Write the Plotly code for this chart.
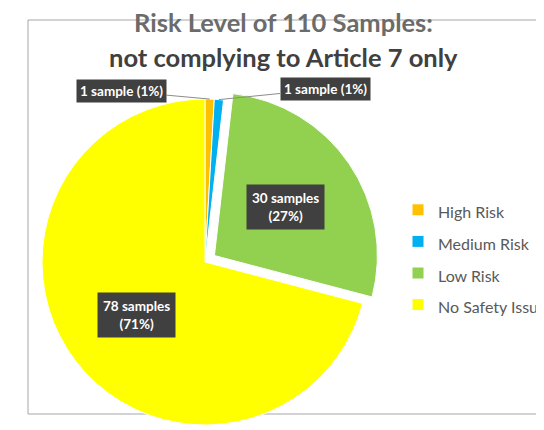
import math
import plotly.graph_objects as go

# ---- data ----
categories = ["High Risk", "Medium Risk", "Low Risk", "No Safety Issue"]
samples = [1, 1, 30, 78]
percent_labels = ["1%", "1%", "27%", "71%"]
colors = ["#FFC000", "#00B0F0", "#92D050", "#FFFF00"]
pulls = [0, 0, 0.07, 0]
title_line1 = "Risk Level of 110 Samples:"
title_line2 = "not complying to Article 7 only"

W, H = 544, 430
OFF = 8                    # page body margin (screen px = figure px + 8)
cx, cy = 205 - OFF, 262 - OFF   # pie centre in figure px
R_TARGET = 163
half = R_TARGET * (1 + max(pulls))
r = half / (1 + max(pulls))

dom_x = [(cx - half) / W, (cx + half) / W]
dom_y = [max(0.0, 1 - (cy + half) / H), 1 - (cy - half) / H]


def fx(px):
    return (px - OFF) / W


def fy(py):
    return 1 - (py - OFF) / H


fig = go.Figure()
fig.add_trace(go.Pie(
    labels=['<span style="font-size:16px">%s</span>' % c for c in categories],
    values=samples,
    sort=False,
    direction="clockwise",
    rotation=0,
    pull=pulls,
    marker=dict(colors=colors, line=dict(color="white", width=1)),
    textinfo="none",
    hoverinfo="skip",
    domain=dict(x=dom_x, y=dom_y),
))

# screen positions of the outside label boxes
label_pos = {0: (121, 91), 1: (325, 89)}

total = sum(samples)
annotations = []
cum = 0
for i, v in enumerate(samples):
    mid = (cum + v / 2) / total * 2 * math.pi
    cum += v
    s, c = math.sin(mid), math.cos(mid)
    ox, oy = cx + pulls[i] * r * s, cy - pulls[i] * r * c
    word = "sample" if v == 1 else "samples"
    if v / total < 0.05:
        px, py = ox + r * s, oy - r * c
        lx, ly = label_pos[i][0] - OFF, label_pos[i][1] - OFF
        text = "<b>%d %s (%s)</b>" % (v, word, percent_labels[i])
        annotations.append(dict(
            x=px / W, y=1 - py / H, xref="paper", yref="paper",
            text=text, showarrow=True, arrowhead=0, arrowwidth=1,
            arrowcolor="#8c8c8c", standoff=0,
            ax=lx - px, ay=ly - py,
            bgcolor="#404040", borderpad=3,
            font=dict(family="Lato", size=13.5, color="white"),
        ))
    else:
        rho = 0.53 * r
        px, py = ox + rho * s, oy - rho * c
        text = "<b>%d %s<br>(%s)</b>" % (v, word, percent_labels[i])
        annotations.append(dict(
            x=px / W, y=1 - py / H, xref="paper", yref="paper",
            xanchor="center", yanchor="middle",
            text=text, showarrow=False,
            bgcolor="#404040", borderpad=5,
            font=dict(family="Lato", size=13.5, color="white"),
        ))

annotations.append(dict(
    x=fx(283), y=fy(22), xref="paper", yref="paper", showarrow=False,
    xanchor="center", yanchor="middle",
    text="<b>%s</b>" % title_line1,
    font=dict(family="Lato", size=25.5, color="#6b6b6b"),
))
annotations.append(dict(
    x=fx(283), y=fy(57), xref="paper", yref="paper", showarrow=False,
    xanchor="center", yanchor="middle",
    text="<b>%s</b>" % title_line2,
    font=dict(family="Lato", size=25.5, color="#404040"),
))

fig.update_layout(
    width=W, height=H,
    margin=dict(l=0, r=0, t=0, b=0, autoexpand=False),
    paper_bgcolor="white",
    showlegend=True,
    legend=dict(
        x=fx(398), y=fy(189), xanchor="left", yanchor="top",
        font=dict(family="Lato", size=22, color="#595959"),
        bgcolor="rgba(0,0,0,0)",
    ),
    annotations=annotations,
    shapes=[
        dict(type="rect", xref="paper", yref="paper",
             x0=fx(28), x1=fx(537), y0=fy(414), y1=fy(20),
             line=dict(color="#a6a6a6", width=1), layer="below"),
    ],
)

fig.write_html("out.html")
